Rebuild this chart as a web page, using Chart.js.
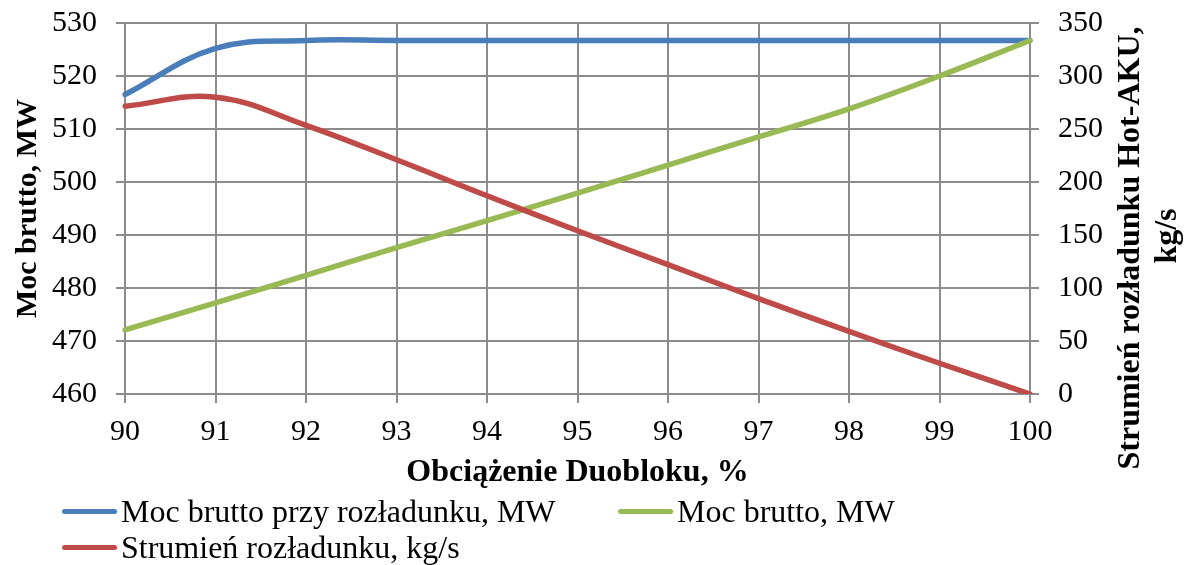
<!DOCTYPE html>
<html>
<head>
<meta charset="utf-8">
<script src="https://cdn.jsdelivr.net/npm/chart.js@4.4.1/dist/chart.umd.min.js"></script>
<style>
  body { margin: 0; background: #fff; }
  #wrap { position: relative; width: 1190px; height: 565px; }
  #legend {
    position: absolute; left: 62px; top: 493px;
    display: grid; grid-template-columns: 556px auto; grid-auto-rows: 36px;
    font-family: "Liberation Serif", "Times New Roman", serif; font-size: 32px; color: #000;
  }
  .item { display: flex; align-items: center; white-space: nowrap; }
  .swatch { width: 55px; height: 5px; border-radius: 3px; margin-right: 4px; }
</style>
</head>
<body>
<div id="wrap">
  <canvas id="chart" width="1190" height="565"></canvas>
  <div id="legend"></div>
</div>
<script>
let categories = ["90", "91", "92", "93", "94", "95", "96", "97", "98", "99", "100"];
let mocPrzyRozladunku = [516.5, 525.2, 526.7, 526.7, 526.7, 526.7, 526.7, 526.7, 526.7, 526.7, 526.7];
let mocBrutto = [472.1, 477.2, 482.4, 487.6, 492.7, 497.9, 503.2, 508.5, 513.8, 520.0, 526.7];
let strumien = [271.5, 280, 253.5, 221, 187, 154, 122, 90, 59, 29, 0];
let seriesNames = ["Moc brutto przy rozładunku, MW", "Moc brutto, MW", "Strumień rozładunku, kg/s"];
let colorBlue = "rgb(74, 126, 187)";
let colorGreen = "rgb(152, 185, 84)";
let colorRed = "rgb(190, 75, 72)";

let serif = "'Liberation Serif', 'Times New Roman', serif";
let gridColor = "#8c8c8c";

// right axis title reads bottom-to-top like the left one, so draw it by hand
let rightTitle = {
  id: "rightTitle",
  afterDraw(chart) {
    let ctx = chart.ctx;
    let s = chart.scales.y1;
    let lines = [["Strumień rozładunku Hot-AKU,", s.left + 101, 248], ["kg/s", s.left + 138, 236]];
    ctx.save();
    ctx.font = "bold 32px " + serif;
    ctx.fillStyle = "#000";
    ctx.textAlign = "center";
    ctx.textBaseline = "middle";
    lines.forEach(function(l) {
      ctx.save();
      ctx.translate(l[1], l[2]);
      ctx.rotate(-Math.PI / 2);
      ctx.fillText(l[0], 0, 0);
      ctx.restore();
    });
    ctx.restore();
  }
};

new Chart(document.getElementById("chart"), {
  type: "line",
  data: {
    labels: categories,
    datasets: [
      { label: seriesNames[0], data: mocPrzyRozladunku, yAxisID: "y", borderColor: colorBlue, backgroundColor: colorBlue, order: 3 },
      { label: seriesNames[1], data: mocBrutto, yAxisID: "y", borderColor: colorGreen, backgroundColor: colorGreen, order: 2 },
      { label: seriesNames[2], data: strumien, yAxisID: "y1", borderColor: colorRed, backgroundColor: colorRed, order: 1 }
    ]
  },
  options: {
    responsive: false,
    animation: false,
    layout: { padding: { top: 23, bottom: 71, left: 0, right: 0 } },
    elements: {
      line: { borderWidth: 5.5, tension: 0.4, borderCapStyle: "round" },
      point: { radius: 0 }
    },
    plugins: { legend: { display: false }, tooltip: { enabled: false } },
    scales: {
      x: {
        grid: { color: gridColor, lineWidth: 2, tickLength: 9 },
        border: { color: gridColor, width: 2 },
        ticks: { color: "#000", font: { family: serif, size: 30 }, padding: 11, maxRotation: 0 },
        title: { display: true, text: "Obciążenie Duobloku, %", color: "#000",
                 font: { family: serif, size: 32, weight: "bold" }, padding: { top: 0, bottom: 2 } },
        afterFit(scale) { scale.height = 100; }
      },
      y: {
        position: "left",
        min: 460, max: 530,
        grid: { color: gridColor, lineWidth: 2, tickLength: 9 },
        border: { color: gridColor, width: 2 },
        ticks: { stepSize: 10, color: "#000", font: { family: serif, size: 30 }, padding: 19 },
        title: { display: true, text: "Moc brutto, MW", color: "#000",
                 font: { family: serif, size: 30, weight: "bold" }, padding: { top: 10, bottom: 0 } },
        afterFit(scale) { scale.width = 125; scale.paddingTop = 0; scale.paddingBottom = 0; }
      },
      y1: {
        position: "right",
        min: 0, max: 350,
        grid: { drawOnChartArea: false, color: gridColor, lineWidth: 2, tickLength: 9 },
        border: { color: gridColor, width: 2 },
        ticks: { stepSize: 50, color: "#000", font: { family: serif, size: 30 }, padding: 19 },
        afterFit(scale) { scale.width = 160; scale.paddingTop = 0; scale.paddingBottom = 0; }
      }
    }
  },
  plugins: [rightTitle]
});

// legend laid out like the original: two columns, wraps to a second row
let legendColors = [colorBlue, colorGreen, colorRed];
let legend = document.getElementById("legend");
seriesNames.forEach(function(name, i) {
  let item = document.createElement("div");
  item.className = "item";
  let sw = document.createElement("span");
  sw.className = "swatch";
  sw.style.background = legendColors[i];
  let txt = document.createElement("span");
  txt.textContent = name;
  item.appendChild(sw);
  item.appendChild(txt);
  legend.appendChild(item);
});
</script>
</body>
</html>
